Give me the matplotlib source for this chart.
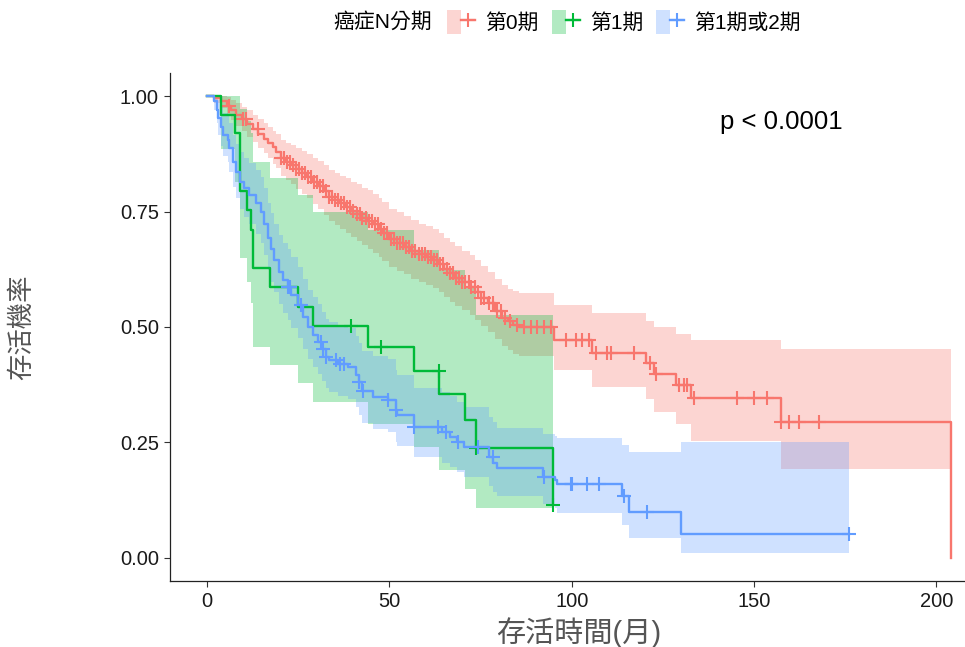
import numpy as np
import matplotlib
matplotlib.use("Agg")
import matplotlib.pyplot as plt
from matplotlib.lines import Line2D
from matplotlib.patches import Patch
from matplotlib.legend_handler import HandlerTuple

plt.rcParams["font.family"] = ["Liberation Sans", "Noto Sans CJK TC", "DejaVu Sans"]

# ---- data (months, survival) ----
groups = ["第0期", "第1期", "第1期或2期"]
colors = ["#F8766D", "#00BA38", "#619CFF"]

# 第0期
red_time = [0, 2.0, 3.8, 5.5, 6.5, 8.0, 9.5, 11.0, 12.5, 14.0, 15.5, 16.6, 18.0, 19.0,
            20.3, 21.5, 23.0, 24.5, 26.0, 27.5, 29.0, 30.5, 32.0, 33.5, 35.0, 36.5,
            38.0, 39.5, 41.0, 42.5, 44.0, 45.5, 47.0, 48.0, 50.0, 52.0, 54.0, 56.0,
            58.0, 60.0, 62.0, 63.5, 65.0, 66.5, 68.0, 70.0, 72.0, 73.5, 75.0, 77.0,
            79.0, 81.0, 82.5, 84.0, 85.5, 95.2, 105.7, 120.3, 122.6, 128.7, 132.6,
            157.3, 204.0]
red_surv = [1.0, .995, .989, .978, .970, .960, .950, .940, .929, .918, .908, .899, .889,
            .880, .865, .858, .850, .842, .834, .825, .815, .806, .795, .782, .775,
            .768, .760, .752, .745, .737, .730, .722, .713, .703, .690, .682, .674,
            .665, .657, .652, .646, .637, .626, .616, .607, .597, .587, .576, .563,
            .551, .535, .520, .512, .505, .500, .472, .443, .421, .398, .374, .346,
            .295, 0.0]
red_upper = [1.0, 1.0, 1.0, .998, .992, .984, .977, .969, .959, .950, .941, .934, .925,
             .918, .905, .899, .894, .887, .881, .874, .866, .859, .850, .839, .834,
             .828, .822, .815, .809, .802, .796, .789, .780, .770, .756, .748, .740,
             .731, .723, .718, .713, .704, .693, .683, .675, .665, .655, .644, .632,
             .620, .604, .590, .583, .577, .573, .548, .530, .514, .501, .485, .472,
             .453, .453]
red_lower = [1.0, .985, .974, .959, .949, .936, .924, .912, .900, .887, .876, .865, .854,
             .844, .827, .819, .809, .799, .789, .779, .767, .756, .743, .729, .720,
             .712, .703, .694, .686, .677, .669, .660, .652, .642, .629, .621, .614,
             .605, .597, .592, .585, .576, .565, .555, .546, .536, .526, .515, .502,
             .490, .473, .458, .450, .442, .437, .406, .370, .345, .316, .289, .253,
             .192, .192]
red_cens = [6.1, 9.8, 10.7, 13.9, 20.3, 21.2, 22.0, 22.8, 23.6, 24.5, 25.3, 26.0, 26.9,
            27.7, 28.4, 29.3, 30.1, 31.0, 31.8, 32.6, 33.5, 34.2, 35.1, 35.9, 36.8,
            37.6, 38.4, 39.3, 40.1, 41.0, 41.8, 42.6, 43.5, 44.3, 45.2, 46.0, 46.9,
            47.7, 48.6, 49.4, 50.3, 51.2, 52.0, 52.8, 53.7, 54.6, 55.4, 56.3, 57.1,
            58.0, 58.8, 59.7, 60.5, 61.4, 62.2, 63.1, 64.0, 64.8, 65.7, 66.5, 67.4,
            68.2, 69.1, 70.0, 70.8, 71.7, 72.5, 73.4, 74.3, 75.1, 76.0, 77.2, 78.4,
            79.5, 80.6, 81.8, 83.0, 85.1, 86.9, 88.8, 90.6, 92.4, 94.2, 98.4, 101.1,
            102.9, 104.7, 106.6, 109.8, 110.7, 117.0, 121.5, 123.0, 129.4, 130.7,
            131.6, 133.5, 145.4, 150.0, 153.6, 157.3, 159.5, 162.3, 167.8]

# 第1期
green_time = [0, 3.8, 7.5, 8.9, 10.9, 11.9, 12.6, 17.1, 24.8, 28.9, 44.0, 56.6, 63.7,
              70.8, 73.7, 95.0]
green_surv = [1.0, .960, .919, .794, .753, .710, .628, .586, .544, .502, .457, .405,
              .356, .299, .237, .115]
green_upper = [1.0, 1.0, 1.0, .973, .947, .920, .858, .822, .786, .750, .710, .667,
               .623, .585, .525, .525]
green_lower = [1.0, .885, .815, .650, .597, .552, .457, .418, .379, .338, .290, .240,
               .190, .150, .108, .108]
green_cens = [39.5, 47.7, 63.5, 73.7, 95.0]

# 第1期或2期
blue_time = [0, 1.8, 2.6, 3.0, 3.8, 4.3, 5.8, 6.1, 7.0, 8.0, 8.9, 10.0, 11.6, 13.4,
             14.8, 15.7, 16.6, 17.5, 18.4, 19.8, 20.7, 22.1, 23.0, 24.8, 26.2, 27.6,
             29.0, 30.3, 31.5, 32.6, 33.5, 36.0, 38.5, 40.8, 41.7, 42.5, 45.4, 49.5,
             51.8, 52.2, 56.6, 64.5, 66.5, 68.5, 70.5, 77.3, 78.5, 79.6, 92.2, 95.5,
             96.0, 113.9, 115.7, 129.9, 176.0]
blue_surv = [1.0, .990, .970, .952, .933, .916, .905, .887, .858, .835, .815, .800,
             .786, .768, .750, .724, .692, .668, .645, .620, .602, .587, .569, .548,
             .522, .500, .483, .468, .452, .436, .429, .420, .414, .396, .380, .362,
             .349, .342, .320, .310, .284, .272, .262, .250, .240, .218, .205, .194,
             .176, .168, .159, .133, .100, .051, .051]
blue_upper = [1.0, 1.0, 1.0, .991, .976, .963, .956, .942, .916, .896, .878, .866,
              .856, .840, .825, .800, .769, .746, .724, .699, .682, .668, .651, .630,
              .603, .581, .564, .549, .533, .517, .511, .503, .498, .481, .466, .449,
              .437, .431, .407, .396, .368, .360, .350, .337, .327, .306, .294, .281,
              .268, .263, .260, .245, .230, .252, .252]
blue_lower = [1.0, .970, .941, .915, .892, .871, .857, .835, .804, .779, .756, .739,
              .722, .702, .682, .655, .623, .598, .575, .550, .531, .515, .497, .476,
              .452, .430, .414, .399, .383, .368, .360, .351, .344, .326, .310, .292,
              .279, .272, .252, .243, .219, .205, .196, .185, .176, .155, .143, .134,
              .116, .107, .097, .072, .044, .010, .010]
blue_cens = [22.1, 22.8, 25.8, 31.2, 31.8, 32.6, 35.3, 36.3, 37.5, 41.7, 42.7, 49.5,
             51.8, 56.8, 63.2, 65.5, 68.7, 74.2, 78.3, 92.4, 99.7, 100.2, 104.3, 107.5,
             114.3, 120.7, 176.0]

series = [
    (red_time, red_surv, red_upper, red_lower, red_cens),
    (green_time, green_surv, green_upper, green_lower, green_cens),
    (blue_time, blue_surv, blue_upper, blue_lower, blue_cens),
]

fig = plt.figure(figsize=(9.65, 6.47), dpi=100)
ax = fig.add_axes([170 / 965, 66 / 647, 818 / 965, 508 / 647])

for (t, s, up, lo, cens), col in zip(series, colors):
    t = np.array(t)
    s = np.array(s)
    ax.fill_between(t, lo, up, step="post", color=col, alpha=0.3, lw=0)
    ax.step(t, s, where="post", color=col, lw=1.7)
    idx = np.searchsorted(t, cens, side="right") - 1
    ax.plot(cens, s[idx], ls="none", marker="+", ms=10, mew=1.5, color=col)

ax.set_xlim(-10.2, 214.2)
ax.set_ylim(-0.05, 1.05)
ax.set_xticks([0, 50, 100, 150, 200])
ax.set_yticks([0, 0.25, 0.5, 0.75, 1.0])
ax.set_yticklabels(["0.00", "0.25", "0.50", "0.75", "1.00"])
ax.tick_params(labelsize=14.5, length=4, width=0.8, pad=4,
               color="#333333", labelcolor="#1a1a1a")
for side in ["top", "right"]:
    ax.spines[side].set_visible(False)
for side in ["left", "bottom"]:
    ax.spines[side].set_linewidth(0.9)
    ax.spines[side].set_color("#222222")

ax.set_xlabel("存活時間(月)", fontsize=21, color="#555555")
ax.xaxis.set_label_coords(0.5, -(633 - 581) / 508)
ax.xaxis.label.set_va("center")
ax.set_ylabel("存活機率", fontsize=19, color="#555555")
ax.yaxis.set_label_coords(-(170 - 22) / 818, 0.5)
ax.yaxis.label.set_va("center")

ax.text(157.5, 0.944, "p < 0.0001", fontsize=18.5, ha="center", va="center")

handles = [(Patch(facecolor=c, alpha=0.3, lw=0),
            Line2D([], [], color=c, lw=1.7, marker="+", ms=10, mew=1.5)) for c in colors]
fig.text(333 / 965, 1 - 22 / 647, "癌症N分期", fontsize=15, va="center", ha="left")
fig.legend(handles, groups, handler_map={tuple: HandlerTuple(ndivide=None)},
           ncol=3, loc="center left", bbox_to_anchor=(447 / 965, 1 - 22 / 647),
           frameon=False, fontsize=15, handlelength=1.35, handleheight=1.35,
           handletextpad=0.48, columnspacing=0.62, numpoints=1, borderpad=0,
           borderaxespad=0)

fig.savefig("out.png", dpi=100)
